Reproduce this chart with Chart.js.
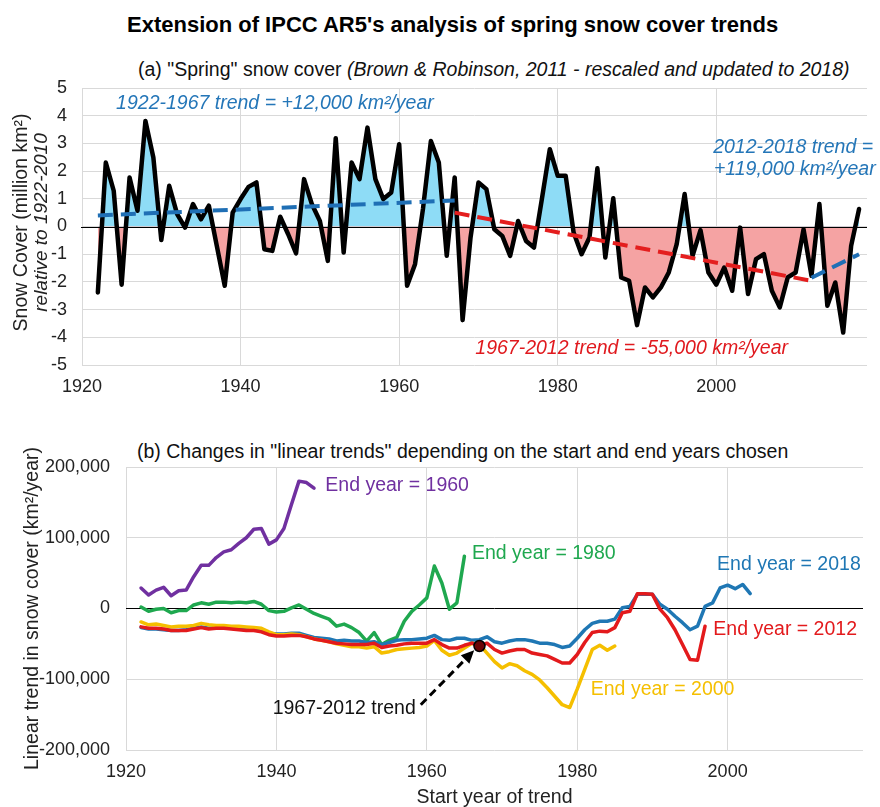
<!DOCTYPE html>
<html>
<head>
<meta charset="utf-8">
<title>Spring snow cover trends</title>
<script src="https://cdn.jsdelivr.net/npm/chart.js@4.4.1/dist/chart.umd.min.js"></script>
<style>
  body { margin: 0; background: #fff; font-family: Arial, "Liberation Sans", sans-serif; }
  #page { position: relative; width: 880px; height: 807px; overflow: hidden; }
  .txt { position: absolute; white-space: nowrap; color: #111; line-height: 1.15; }
  #title { left: 127px; top: 12px; font-size: 22px; font-weight: bold; color: #000; }
  #subA { left: 138px; top: 58px; font-size: 19.5px; }
  #subB { left: 137px; top: 440px; font-size: 19.5px; }
  #topWrap { position: absolute; left: 0; top: 60px; }
  #botWrap { position: absolute; left: 0; top: 440px; }
</style>
</head>
<body>
<div id="page">
  <div class="txt" id="title">Extension of IPCC AR5's analysis of spring snow cover trends</div>
  <div class="txt" id="subA">(a) "Spring" snow cover <i>(Brown &amp; Robinson, 2011 - rescaled and updated to 2018)</i></div>
  <div class="txt" id="subB">(b) Changes in "linear trends" depending on the start and end years chosen</div>
  <div id="topWrap"><canvas id="snow_cover" width="880" height="340"></canvas></div>
  <div id="botWrap"><canvas id="trend_changes" width="880" height="367"></canvas></div>
</div>
<script>
// (a) spring snow cover anomaly, million km2, one value per year from 1922
const snowStart = 1922;
const snowCover = [
  -2.38, 2.31, 1.29, -2.10, 1.77, 0.57, 3.81, 2.49, -0.49, 1.47,
  0.45, -0.04, 0.81, 0.26, 0.75, -0.70, -2.14, 0.50, 0.99, 1.43,
  1.59, -0.82, -0.88, 0.35, -0.28, -0.97, 1.71, 0.80, 0.20, -1.24,
  3.19, -0.94, 2.31, 1.71, 3.57, 1.71, 0.99, 1.23, 2.97, -2.14,
  -1.36, 0.63, 3.09, 2.31, -1.06, 1.77, -3.38, -0.40, 1.59, 1.35,
  -0.10, -0.34, -1.06, 0.20, -0.52, -0.76, 1.00, 2.79, 1.83, 1.83,
  -0.22, -1.00, -0.40, 2.10, -1.12, 1.02, -1.84, -1.96, -3.56, -2.20,
  -2.56, -2.20, -1.66, -0.64, 1.17, -1.06, -0.13, -1.66, -2.10, -1.48,
  -2.32, -0.04, -2.44, -1.18, -1.00, -2.32, -2.92, -1.84, -1.66, -0.10,
  -1.78, 0.81, -2.86, -2.02, -3.83, -0.70, 0.63
];

// dashed trend segments (start/end year and value)
const trendEarlyYears = [1922, 1967];
const trendEarlyValues = [0.40, 0.94];
const trendMidYears = [1967, 2012];
const trendMidValues = [0.50, -1.96];
const trendLateYears = [2012, 2018];
const trendLateValues = [-1.85, -1.00];

// (b) linear trend (km2/year) by start year, for each end year
const trendStart = 1922;
const endYear1960 = [
  29000, 19000, 26000, 30000, 18000, 25000, 26000, 45000, 61000, 61000,
  72000, 80000, 83000, 92000, 100000, 112000, 113000, 91000, 97000, 113000,
  147000, 180000, 178000, 170000
];
const endYear1980 = [
  2000, -4000, -1000, 0, -6000, -3000, -3000, 5000, 8000, 6000,
  9000, 9000, 8000, 9000, 8000, 10000, 6000, -3000, -5000, -4000,
  1000, 5000, -1000, -7000, -11000, -15000, -25000, -22000, -27000, -34000,
  -46000, -34000, -51000, -45000, -41000, -18000, -4000, 5000, 15000, 60000,
  36000, -1000, 8000, 74000
];
const endYear2000 = [
  -19000, -23000, -22000, -24000, -26000, -25000, -25000, -24000, -21000, -23000,
  -24000, -24000, -25000, -25000, -26000, -27000, -28000, -33000, -37000, -37000,
  -36000, -37000, -40000, -43000, -45000, -47000, -50000, -52000, -54000, -54000,
  -56000, -54000, -63000, -61000, -58000, -57000, -56000, -55000, -53000, -45000,
  -59000, -66000, -63000, -56000, -49000, -51000, -63000, -75000, -84000, -78000,
  -81000, -88000, -93000, -101000, -112000, -124000, -136000, -140000, -114000, -86000,
  -58000, -52000, -59000, -53000
];
const endYear2012 = [
  -26000, -28000, -28000, -29000, -31000, -31000, -31000, -29000, -27000, -29000,
  -28000, -28000, -29000, -30000, -31000, -31000, -33000, -37000, -39000, -39000,
  -38000, -38000, -40000, -43000, -45000, -47000, -49000, -50000, -51000, -51000,
  -51000, -49000, -55000, -53000, -52000, -50000, -49000, -49000, -49000, -44000,
  -51000, -56000, -56000, -52000, -49000, -53000, -49000, -58000, -63000, -60000,
  -58000, -58000, -63000, -65000, -67000, -72000, -77000, -77000, -65000, -48000,
  -34000, -32000, -33000, -27000, -6000, -4000, 21000, 21000, 20000, -1000,
  -13000, -30000, -51000, -72000, -73000, -25000
];
const endYear2018 = [
  -27000, -29000, -29000, -30000, -31000, -31000, -30000, -28000, -26000, -28000,
  -27000, -27000, -28000, -29000, -30000, -30000, -31000, -35000, -36000, -36000,
  -35000, -35000, -38000, -41000, -42000, -43000, -46000, -45000, -46000, -46000,
  -48000, -47000, -51000, -48000, -45000, -44000, -44000, -43000, -42000, -38000,
  -44000, -45000, -42000, -42000, -45000, -44000, -40000, -47000, -49000, -46000,
  -44000, -44000, -46000, -49000, -49000, -51000, -55000, -53000, -42000, -30000,
  -21000, -18000, -18000, -15000, 1000, 3000, 20000, 20000, 20000, 6000,
  -1000, -11000, -20000, -30000, -25000, 3000, 8000, 29000, 33000, 28000,
  34000, 21000
];
const markedStartYear = 1967;

const FONT = 'Arial, "Liberation Sans", sans-serif';
Chart.defaults.font.family = FONT;
Chart.defaults.color = '#222';

function toPoints(start, values) {
  return values.map((v, i) => ({ x: start + i, y: v }));
}
function pairPoints(years, values) {
  return years.map((yr, i) => ({ x: yr, y: values[i] }));
}

// black zero line drawn over the fill but under the data line
const zeroLine = {
  id: 'zeroLine',
  afterDatasetDraw(chart, args) {
    if (args.index !== 0) return;
    const {ctx, chartArea, scales: {y}} = chart;
    const py = Math.round(y.getPixelForValue(0)) + 0.5;
    ctx.save();
    ctx.strokeStyle = '#000';
    ctx.lineWidth = 1.2;
    ctx.beginPath();
    ctx.moveTo(chartArea.left - 1, py);
    ctx.lineTo(chartArea.right, py);
    ctx.stroke();
    ctx.restore();
  }
};

// text notes placed in data units
const notes = {
  id: 'notes',
  afterDatasetsDraw(chart, args, opts) {
    const {ctx, scales: {x, y}} = chart;
    (opts.items || []).forEach(n => {
      ctx.save();
      ctx.font = n.font;
      ctx.fillStyle = n.color;
      ctx.textAlign = 'left';
      ctx.textBaseline = 'middle';
      ctx.fillText(n.text, x.getPixelForValue(n.x), y.getPixelForValue(n.y));
      ctx.restore();
    });
    const a = opts.arrow;
    if (a) {
      const x0 = x.getPixelForValue(a.from[0]), y0 = y.getPixelForValue(a.from[1]);
      const x1 = x.getPixelForValue(a.to[0]), y1 = y.getPixelForValue(a.to[1]);
      const ang = Math.atan2(y1 - y0, x1 - x0);
      const head = 13;
      const bx = x1 - head * Math.cos(ang), by = y1 - head * Math.sin(ang);
      ctx.save();
      ctx.strokeStyle = '#000';
      ctx.fillStyle = '#000';
      ctx.lineWidth = 3;
      ctx.setLineDash([8, 5]);
      ctx.beginPath();
      ctx.moveTo(x0, y0);
      ctx.lineTo(bx, by);
      ctx.stroke();
      ctx.setLineDash([]);
      ctx.beginPath();
      ctx.moveTo(x1, y1);
      ctx.lineTo(bx + 6 * Math.sin(ang), by - 6 * Math.cos(ang));
      ctx.lineTo(bx - 6 * Math.sin(ang), by + 6 * Math.cos(ang));
      ctx.closePath();
      ctx.fill();
      ctx.restore();
    }
  }
};

// two-line y title for the top panel (second line italic)
const snowTitle = {
  id: 'snowTitle',
  afterDraw(chart) {
    const {ctx, chartArea} = chart;
    const cy = (chartArea.top + chartArea.bottom) / 2 - 4;
    ctx.save();
    ctx.fillStyle = '#222';
    ctx.textAlign = 'center';
    ctx.textBaseline = 'middle';
    ctx.translate(22, cy);
    ctx.rotate(-Math.PI / 2);
    ctx.font = '19.5px ' + FONT;
    ctx.fillText('Snow Cover (million km²)', 0, 0);
    ctx.restore();
    ctx.save();
    ctx.fillStyle = '#222';
    ctx.textAlign = 'center';
    ctx.textBaseline = 'middle';
    ctx.translate(42, cy);
    ctx.rotate(-Math.PI / 2);
    ctx.font = 'italic 19px ' + FONT;
    ctx.fillText('relative to 1922-2010', 0, 0);
    ctx.restore();
  }
};

const BLUE_TXT = '#2476B8';
const RED_TXT = '#E0191E';
const ITAL = 'italic 19.5px ' + FONT;

const snowPoints = toPoints(snowStart, snowCover);

new Chart(document.getElementById('snow_cover'), {
  type: 'line',
  data: {
    datasets: [
      { label: 'fill', data: snowPoints, borderWidth: 0, pointRadius: 0, order: 10,
        fill: { target: 'origin', above: '#8EDCF6', below: '#F5A3A3' } },
      { label: 'snow', data: snowPoints, borderColor: '#000', borderWidth: 4.5, pointRadius: 0,
        fill: false, order: 5, borderJoinStyle: 'round', borderCapStyle: 'round' },
      { label: '1922-1967', data: pairPoints(trendEarlyYears, trendEarlyValues), borderColor: '#1F6FB5',
        borderWidth: 4, borderDash: [15, 8], pointRadius: 0, fill: false, order: 1 },
      { label: '1967-2012', data: pairPoints(trendMidYears, trendMidValues), borderColor: '#E41E1E',
        borderWidth: 4, borderDash: [15, 8], pointRadius: 0, fill: false, order: 1 },
      { label: '2012-2018', data: pairPoints(trendLateYears, trendLateValues), borderColor: '#1F6FB5',
        borderWidth: 4, borderDash: [15, 8], pointRadius: 0, fill: false, order: 1 }
    ]
  },
  options: {
    responsive: false,
    animation: false,
    layout: { padding: { top: 28, right: 13, left: 0, bottom: 0 } },
    plugins: {
      legend: { display: false },
      tooltip: { enabled: false },
      notes: { items: [
        { text: '1922-1967 trend = +12,000 km²/year', x: 1924.3, y: 4.44, color: BLUE_TXT, font: ITAL },
        { text: '2012-2018 trend =', x: 1999.6, y: 2.85, color: BLUE_TXT, font: ITAL },
        { text: '+119,000 km²/year', x: 1999.7, y: 2.05, color: BLUE_TXT, font: ITAL },
        { text: '1967-2012 trend = -55,000 km²/year', x: 1969.6, y: -4.42, color: RED_TXT, font: ITAL }
      ] }
    },
    scales: {
      x: {
        type: 'linear', min: 1920, max: 2019,
        ticks: { stepSize: 20, includeBounds: false, padding: 11, font: { size: 18 }, callback: v => String(v) },
        grid: { color: '#d9d9d9', drawTicks: false },
        border: { display: false },
        afterFit: s => { s.height = 35; }
      },
      y: {
        min: -5, max: 5,
        ticks: { stepSize: 1, padding: 15, font: { size: 18 } },
        grid: { color: '#d9d9d9', drawTicks: false },
        border: { display: false },
        afterFit: s => { s.width = 82; }
      }
    }
  },
  plugins: [zeroLine, notes, snowTitle]
});

// (b)
const PURPLE = '#7030A0', GREEN = '#1FA84F', YELLOW = '#F5BF00', RED = '#E31A1C', BLUE = '#1F77B4';
const lineSet = (label, values, color, order) => ({
  label, data: toPoints(trendStart, values), borderColor: color, borderWidth: 3.5,
  pointRadius: 0, fill: false, order, borderJoinStyle: 'round', borderCapStyle: 'round'
});

new Chart(document.getElementById('trend_changes'), {
  type: 'line',
  data: {
    datasets: [
      { label: 'marked', data: [{ x: markedStartYear, y: endYear2012[markedStartYear - trendStart] }],
        showLine: false, pointRadius: 5.5, pointBackgroundColor: '#6B0505', pointBorderColor: '#000',
        pointBorderWidth: 1.5, order: 0 },
      lineSet('End year = 2012', endYear2012, RED, 1),
      lineSet('End year = 2000', endYear2000, YELLOW, 2),
      lineSet('End year = 2018', endYear2018, BLUE, 3),
      lineSet('End year = 1980', endYear1980, GREEN, 4),
      lineSet('End year = 1960', endYear1960, PURPLE, 5)
    ]
  },
  options: {
    responsive: false,
    animation: false,
    layout: { padding: { top: 27, right: 17, left: 0, bottom: 0 } },
    plugins: {
      legend: { display: false },
      tooltip: { enabled: false },
      notes: {
        items: [
          { text: 'End year = 1960', x: 1946.5, y: 173000, color: PURPLE, font: '19.5px ' + FONT },
          { text: 'End year = 1980', x: 1966.0, y: 77000, color: GREEN, font: '19.5px ' + FONT },
          { text: 'End year = 2018', x: 1998.6, y: 62000, color: BLUE, font: '19.5px ' + FONT },
          { text: 'End year = 2012', x: 1998.1, y: -30000, color: RED, font: '19.5px ' + FONT },
          { text: 'End year = 2000', x: 1981.8, y: -115000, color: YELLOW, font: '19.5px ' + FONT },
          { text: '1967-2012 trend', x: 1939.5, y: -142000, color: '#111', font: '19.5px ' + FONT }
        ],
        arrow: { from: [1959.2, -136000], to: [1966.3, -59000] }
      }
    },
    scales: {
      x: {
        type: 'linear', min: 1920, max: 2018,
        ticks: { stepSize: 20, includeBounds: false, padding: 11, font: { size: 18 }, callback: v => String(v) },
        grid: { color: '#d9d9d9', drawTicks: false },
        border: { display: false },
        title: { display: true, text: 'Start year of trend', font: { size: 19.5, lineHeight: 1 }, padding: { top: 0, bottom: 0 }, color: '#222' },
        afterFit: s => { s.height = 57; }
      },
      y: {
        min: -200000, max: 200000,
        ticks: { stepSize: 100000, padding: 16, font: { size: 18 } },
        grid: { color: c => (c.tick && c.tick.value === 0 ? '#000' : '#d9d9d9'), drawTicks: false },
        border: { display: false },
        title: { display: true, text: 'Linear trend in snow cover (km²/year)', font: { size: 19.5 }, padding: { top: 21, bottom: 0 }, color: '#222' },
        afterFit: s => { s.width = 126; }
      }
    }
  },
  plugins: [notes]
});
</script>
</body>
</html>
